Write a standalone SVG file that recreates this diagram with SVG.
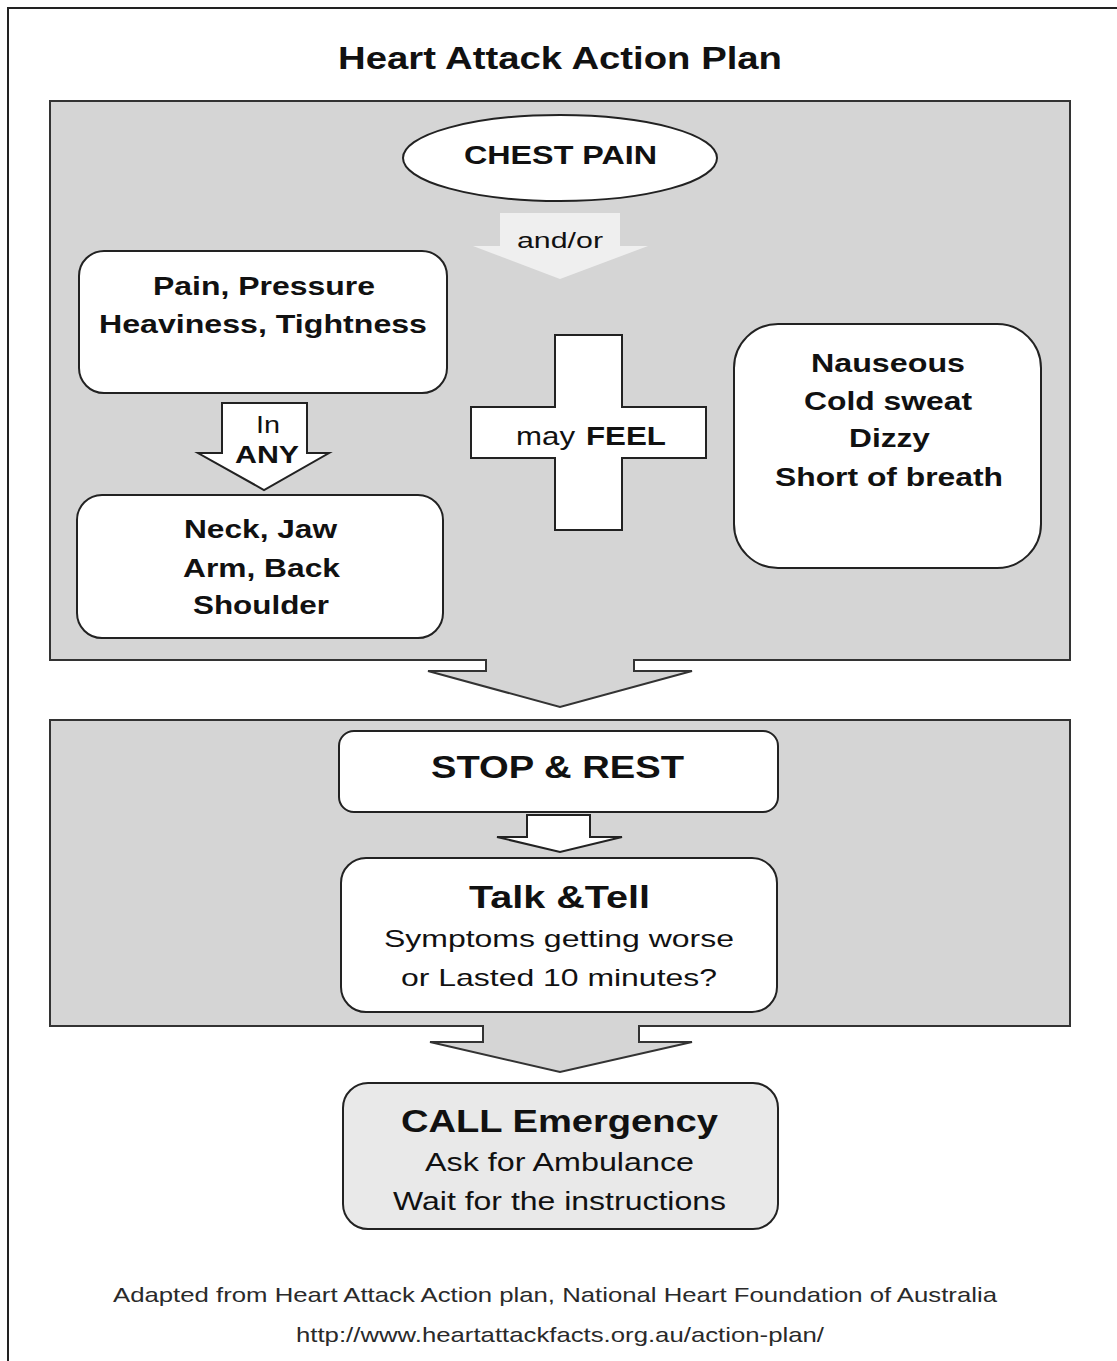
<svg xmlns="http://www.w3.org/2000/svg" width="1117" height="1361" viewBox="0 0 1117 1361">
<style>
  text { font-family: "Liberation Sans", Arial, sans-serif; fill: #111; }
  .b { font-weight: bold; }
  .r { font-weight: normal; }
  .panel { fill: #d5d5d5; stroke: #333; stroke-width: 2; }
  .box { fill: #fff; stroke: #222; stroke-width: 2; }
  .arrow { fill: #fff; stroke: #222; stroke-width: 2; stroke-linejoin: miter; }
  .foot { fill: #2a2a2a; font-size: 21px; }
</style>
<rect x="0" y="0" width="1117" height="1361" fill="#fff"/>
<path d="M8,1361 V8 H1117" fill="none" stroke="#222" stroke-width="2"/>

<text class="b" x="338" y="69" font-size="32" textLength="444" lengthAdjust="spacingAndGlyphs">Heart Attack Action Plan</text>

<!-- panels including their outgoing block arrows -->
<g id="panel-symptoms">
  <path class="panel" d="M50,101 H1070 V660 H634 V671 H692 L560,707 L428,671 H486 V660 H50 Z"/>
</g>
<g id="panel-actions">
  <path class="panel" d="M50,720 H1070 V1026 H639 V1042 H692 L560,1072 L430,1042 H483 V1026 H50 Z"/>
</g>

<g id="connectors">
  <polygon points="500,213 620,213 620,246 648,246 560,279 473,246 500,246" fill="#efefef"/>
  <text class="r" x="517" y="248" font-size="22" textLength="86" lengthAdjust="spacingAndGlyphs">and/or</text>
  <polygon class="arrow" points="222,403 307,403 307,453 329,453 264,490 198,453 222,453"/>
  <text class="r" x="256" y="433" font-size="24" textLength="24" lengthAdjust="spacingAndGlyphs">In</text>
  <text class="b" x="235" y="463" font-size="24" textLength="64" lengthAdjust="spacingAndGlyphs">ANY</text>
  <polygon class="arrow" points="527,815 590,815 590,837 622,837 560,852 497,837 527,837"/>
</g>

<g id="chest-pain">
  <ellipse cx="560" cy="158" rx="157" ry="43" fill="#fff" stroke="#222" stroke-width="2"/>
  <text class="b" x="464" y="164" font-size="26" textLength="193" lengthAdjust="spacingAndGlyphs">CHEST PAIN</text>
</g>

<g id="pain-pressure">
  <rect class="box" x="79" y="251" width="368" height="142" rx="25"/>
  <text class="b" x="153" y="295" font-size="26" textLength="222" lengthAdjust="spacingAndGlyphs">Pain, Pressure</text>
  <text class="b" x="99" y="333" font-size="26" textLength="328" lengthAdjust="spacingAndGlyphs">Heaviness, Tightness</text>
</g>

<g id="neck-jaw">
  <rect class="box" x="77" y="495" width="366" height="143" rx="25"/>
  <text class="b" x="184" y="538" font-size="26" textLength="153" lengthAdjust="spacingAndGlyphs">Neck, Jaw</text>
  <text class="b" x="183" y="577" font-size="26" textLength="157" lengthAdjust="spacingAndGlyphs">Arm, Back</text>
  <text class="b" x="193" y="614" font-size="26" textLength="136" lengthAdjust="spacingAndGlyphs">Shoulder</text>
</g>

<g id="may-feel">
  <polygon class="box" points="555,335 622,335 622,407 706,407 706,458 622,458 622,530 555,530 555,458 471,458 471,407 555,407"/>
  <text y="445" font-size="25"><tspan class="r" x="516" textLength="59" lengthAdjust="spacingAndGlyphs">may</tspan><tspan class="b" x="586" textLength="80" lengthAdjust="spacingAndGlyphs">FEEL</tspan></text>
</g>

<g id="other-symptoms">
  <rect class="box" x="734" y="324" width="307" height="244" rx="44"/>
  <text class="b" x="811" y="372" font-size="26" textLength="154" lengthAdjust="spacingAndGlyphs">Nauseous</text>
  <text class="b" x="804" y="410" font-size="26" textLength="168" lengthAdjust="spacingAndGlyphs">Cold sweat</text>
  <text class="b" x="849" y="447" font-size="26" textLength="81" lengthAdjust="spacingAndGlyphs">Dizzy</text>
  <text class="b" x="775" y="486" font-size="26" textLength="228" lengthAdjust="spacingAndGlyphs">Short of breath</text>
</g>

<g id="stop-rest">
  <rect class="box" x="339" y="731" width="439" height="81" rx="15"/>
  <text class="b" x="431" y="778" font-size="32" textLength="253" lengthAdjust="spacingAndGlyphs">STOP &amp; REST</text>
</g>

<g id="talk-tell">
  <rect class="box" x="341" y="858" width="436" height="154" rx="25"/>
  <text class="b" x="469" y="908" font-size="31" textLength="181" lengthAdjust="spacingAndGlyphs">Talk &amp;Tell</text>
  <text class="r" x="384" y="947" font-size="24" textLength="350" lengthAdjust="spacingAndGlyphs">Symptoms getting worse</text>
  <text class="r" x="401" y="986" font-size="24" textLength="316" lengthAdjust="spacingAndGlyphs">or Lasted 10 minutes?</text>
</g>

<g id="call-emergency">
  <rect x="343" y="1083" width="435" height="146" rx="25" fill="#e9e9e9" stroke="#222" stroke-width="2"/>
  <text class="b" x="401" y="1132" font-size="31" textLength="317" lengthAdjust="spacingAndGlyphs">CALL Emergency</text>
  <text class="r" x="425" y="1171" font-size="25" textLength="269" lengthAdjust="spacingAndGlyphs">Ask for Ambulance</text>
  <text class="r" x="393" y="1210" font-size="25" textLength="333" lengthAdjust="spacingAndGlyphs">Wait for the instructions</text>
</g>

<text class="r foot" x="113" y="1302" textLength="884" lengthAdjust="spacingAndGlyphs">Adapted from Heart Attack Action plan, National Heart Foundation of Australia</text>
<text class="r foot" x="296" y="1342" textLength="528" lengthAdjust="spacingAndGlyphs">http://www.heartattackfacts.org.au/action-plan/</text>
</svg>
